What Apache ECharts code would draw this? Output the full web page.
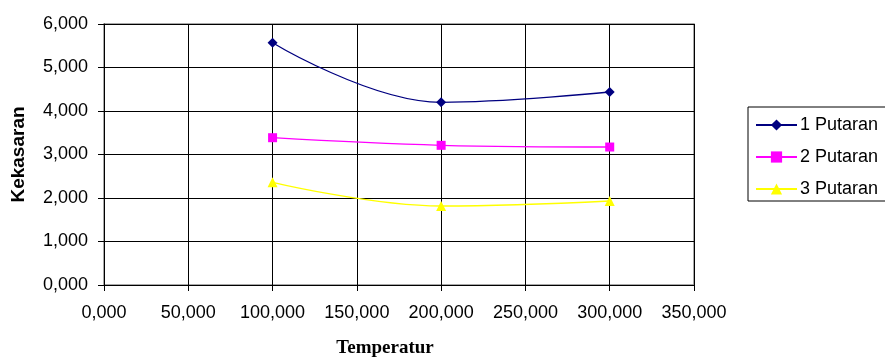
<!DOCTYPE html>
<html><head><meta charset="utf-8">
<script src="https://cdn.jsdelivr.net/npm/echarts@6/dist/echarts.min.js"></script>
<style>html,body{margin:0;padding:0;background:#fff}#c{width:885px;height:358px}</style>
</head><body><div id="c"></div>
<script>
const temperatures = [100, 200, 300];
const seriesNames = ['1 Putaran', '2 Putaran', '3 Putaran'];
const putaran1 = [5570, 4200, 4437];
const putaran2 = [3386, 3211, 3172];
const putaran3 = [2360, 1816, 1931];
const xTicks = [0, 50, 100, 150, 200, 250, 300, 350];
const yTicks = [0, 1000, 2000, 3000, 4000, 5000, 6000];

const fmtX = v => v.toFixed(3).replace('.', ',');
const fmtY = v => (v / 1000).toFixed(3).replace('.', ',');
const pairs = vals => temperatures.map((t, i) => [t, vals[i]]);

const chart = echarts.init(document.getElementById('c'));
const font = 'Liberation Sans, Arial, sans-serif';
chart.setOption({
  animation: false,
  grid: { left: 104, right: 191, top: 24, bottom: 73, outerBoundsMode: 'none', containLabel: false,
          show: true, borderColor: '#8c8c8c', borderWidth: 1.5 },
  legend: {
    orient: 'vertical', left: 748, top: 107,
    padding: [9, 60, 3, 7],
    itemWidth: 41, itemHeight: 14, itemGap: 14,
    borderColor: '#000', borderWidth: 1,
    textStyle: { fontFamily: font, fontSize: 18, color: '#000', padding: [0, 0, 0, -2] },
    data: seriesNames
  },
  xAxis: {
    type: 'value', min: xTicks[0], max: xTicks[xTicks.length - 1], interval: 50,
    name: 'Temperatur', nameLocation: 'middle', nameGap: 54,
    nameTextStyle: { fontFamily: 'Liberation Serif, Times New Roman, serif', fontWeight: 'bold', fontSize: 19, color: '#000', padding: [0, 28, 0, 0] },
    axisLine: { lineStyle: { color: '#000', width: 1 } },
    axisTick: { show: true, length: 6, lineStyle: { color: '#000' } },
    axisLabel: { formatter: fmtX, fontFamily: font, fontSize: 18, color: '#000', margin: 19 },
    splitLine: { lineStyle: { color: '#000', width: 1 } }
  },
  yAxis: {
    type: 'value', min: yTicks[0], max: yTicks[yTicks.length - 1], interval: 1000,
    name: 'Kekasaran', nameLocation: 'middle', nameGap: 76,
    nameTextStyle: { fontFamily: font, fontWeight: 'bold', fontSize: 19, color: '#000' },
    axisLine: { show: true, lineStyle: { color: '#000', width: 1 } },
    axisTick: { show: true, length: 6, lineStyle: { color: '#000' } },
    axisLabel: { formatter: fmtY, fontFamily: font, fontSize: 18, color: '#000', margin: 16 },
    splitLine: { lineStyle: { color: '#000', width: 1 } }
  },
  series: [
    { name: seriesNames[0], type: 'line', smooth: 0.4, data: pairs(putaran1), symbol: 'diamond', symbolSize: 10,
      itemStyle: { color: '#000080' }, lineStyle: { color: '#000080', width: 1.3 } },
    { name: seriesNames[1], type: 'line', smooth: 0.4, data: pairs(putaran2), symbol: 'rect', symbolSize: 9,
      itemStyle: { color: '#ff00ff' }, lineStyle: { color: '#ff00ff', width: 1.3 } },
    { name: seriesNames[2], type: 'line', smooth: 0.4, data: pairs(putaran3), symbol: 'triangle', symbolSize: 10,
      itemStyle: { color: '#ffff00' }, lineStyle: { color: '#ffff00', width: 1.3 } }
  ]
});
</script></body></html>
